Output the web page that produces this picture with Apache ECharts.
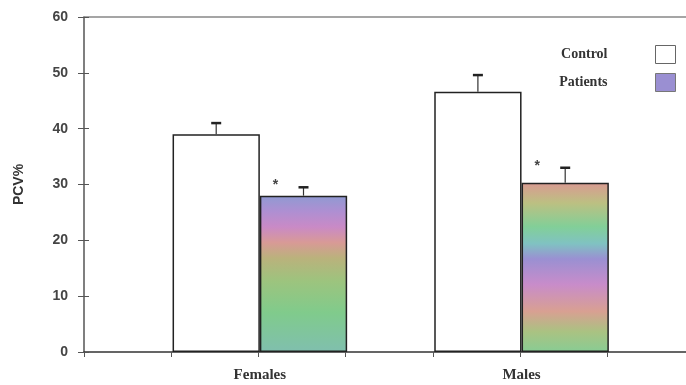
<!DOCTYPE html>
<html>
<head>
<meta charset="utf-8">
<script src="https://cdn.jsdelivr.net/npm/echarts@6/dist/echarts.min.js"></script>
<style>
  html, body { margin: 0; padding: 0; background: #fff; }
  #chart { width: 686px; height: 385px; }
</style>
</head>
<body>
<div id="chart"></div>
<script>
const categories = ['Females', 'Males']
const controlValues = [39, 46.6]
const patientValues = [28, 30.3]
const controlErrors = [2, 3]
const patientErrors = [1.5, 2.7]
const seriesNames = ['Control', 'Patients']

// striped "rainbow" fills seen in the scanned figure
const patientFills = [
  [[0, '#8f9ad2'], [0.1, '#ae8fd2'], [0.2, '#c98ac6'], [0.3, '#d89a96'], [0.4, '#bab27c'],
    [0.55, '#9cc47e'], [0.75, '#80cb8c'], [1, '#80bfae']],
  [[0, '#d99a92'], [0.12, '#bcc082'], [0.26, '#82cf98'], [0.36, '#80c2c2'], [0.45, '#9a90d2'],
    [0.6, '#c88cca'], [0.76, '#d8a092'], [0.88, '#aac282'], [1, '#88cc94']]
]

const BAR_W = 87.3
const AXIS_FONT = 'Liberation Sans, Arial, sans-serif'
const SERIF = 'Liberation Serif, Times New Roman, serif'

const gradient = (stops) => new echarts.graphic.LinearGradient(0, 0, 0, 1,
  stops.map(s => ({ offset: s[0], color: s[1] })))

const errorItems = []
controlValues.forEach((v, i) => errorItems.push([i, v, controlErrors[i], -1, 0]))
patientValues.forEach((v, i) => errorItems.push([i, v, patientErrors[i], 1, 1]))

const chart = echarts.init(document.getElementById('chart'))

const option = {
  animation: false,
  backgroundColor: '#fff',
  grid: [
    { left: 84, right: 0, top: 17, bottom: 33 },
    { left: 129, width: 523.4, top: 17, bottom: 33 }
  ],
  legend: {
    orient: 'vertical',
    right: 5,
    top: 40,
    align: 'right',
    icon: 'rect',
    itemWidth: 20,
    itemHeight: 18,
    itemGap: 9,
    textStyle: {
      fontFamily: SERIF,
      fontWeight: 'bold',
      fontSize: 14,
      color: '#333',
      padding: [10, 43, 0, 0]
    },
    data: [
      { name: 'Control', itemStyle: { color: '#fff', borderColor: '#666', borderWidth: 1 } },
      { name: 'Patients', itemStyle: { color: '#9a8fd2', borderColor: '#777', borderWidth: 1 } }
    ]
  },
  xAxis: [
    {
      gridIndex: 0,
      type: 'value',
      min: 0,
      max: 6.9,
      interval: 1,
      axisLine: { lineStyle: { color: '#333', width: 1.5 } },
      axisTick: { show: true, length: 5, lineStyle: { color: '#555' } },
      axisLabel: { show: false },
      splitLine: { show: false }
    },
    {
      gridIndex: 0,
      type: 'value',
      position: 'top',
      min: 0,
      max: 1,
      axisLine: { show: true, lineStyle: { color: '#888', width: 1.5 } },
      axisTick: { show: false },
      axisLabel: { show: false },
      splitLine: { show: false }
    },
    {
      gridIndex: 1,
      type: 'category',
      data: categories,
      axisLine: { show: false },
      axisTick: { show: false },
      axisLabel: {
        margin: 16,
        fontFamily: SERIF,
        fontWeight: 'bold',
        fontSize: 15,
        color: '#333'
      }
    }
  ],
  yAxis: [
    {
      gridIndex: 0,
      type: 'value',
      min: 0,
      max: 60,
      interval: 10,
      position: 'left',
      name: 'PCV%',
      nameLocation: 'middle',
      nameGap: 58,
      nameRotate: 90,
      nameTextStyle: { fontFamily: AXIS_FONT, fontWeight: 'bold', fontSize: 14, color: '#333' },
      axisLine: { show: true, lineStyle: { color: '#555', width: 1.5 } },
      axisTick: { show: true, length: 6, lineStyle: { color: '#555' } },
      axisLabel: { margin: 16, fontFamily: AXIS_FONT, fontWeight: 'bold', fontSize: 14, color: '#444' },
      splitLine: { show: false }
    },
    {
      // inner half of the crossing ticks, pushed back onto the main axis
      gridIndex: 1,
      type: 'value',
      min: 0,
      max: 60,
      interval: 10,
      position: 'left',
      offset: 45,
      axisLine: { show: false },
      axisTick: { show: true, inside: true, length: 5, lineStyle: { color: '#555' } },
      axisLabel: { show: false },
      splitLine: { show: false }
    }
  ],
  series: [
    {
      name: seriesNames[0],
      type: 'bar',
      xAxisIndex: 2,
      yAxisIndex: 1,
      barWidth: BAR_W,
      barGap: '0%',
      itemStyle: { color: '#fff', borderColor: '#222', borderWidth: 1.5 },
      data: controlValues
    },
    {
      name: seriesNames[1],
      type: 'bar',
      xAxisIndex: 2,
      yAxisIndex: 1,
      barWidth: BAR_W,
      barGap: '0%',
      itemStyle: { color: '#9a8fd2', borderColor: '#222', borderWidth: 1.5 },
      data: patientValues.map((v, i) => ({ value: v, itemStyle: { color: gradient(patientFills[i]) } }))
    },
    {
      name: 'errors',
      type: 'custom',
      xAxisIndex: 2,
      yAxisIndex: 1,
      silent: true,
      z: 5,
      data: errorItems,
      renderItem: (params, api) => {
        const top = api.coord([api.value(0), api.value(1)])
        const cap = api.coord([api.value(0), api.value(1) + api.value(2)])
        const x = top[0] + api.value(3) * BAR_W / 2
        const children = [
          { type: 'line', shape: { x1: x, y1: top[1], x2: x, y2: cap[1] }, style: { stroke: '#333', lineWidth: 1.2 } },
          { type: 'line', shape: { x1: x - 5, y1: cap[1], x2: x + 5, y2: cap[1] }, style: { stroke: '#222', lineWidth: 2.5 } }
        ]
        if (api.value(4) === 1) {
          children.push({
            type: 'text',
            style: {
              x: x - 28,
              y: cap[1] - 2,
              text: '*',
              fill: '#444',
              font: 'bold 14px ' + AXIS_FONT,
              align: 'center',
              verticalAlign: 'middle'
            }
          })
        }
        return { type: 'group', children: children }
      }
    }
  ]
}

chart.setOption(option)
</script>
</body>
</html>
